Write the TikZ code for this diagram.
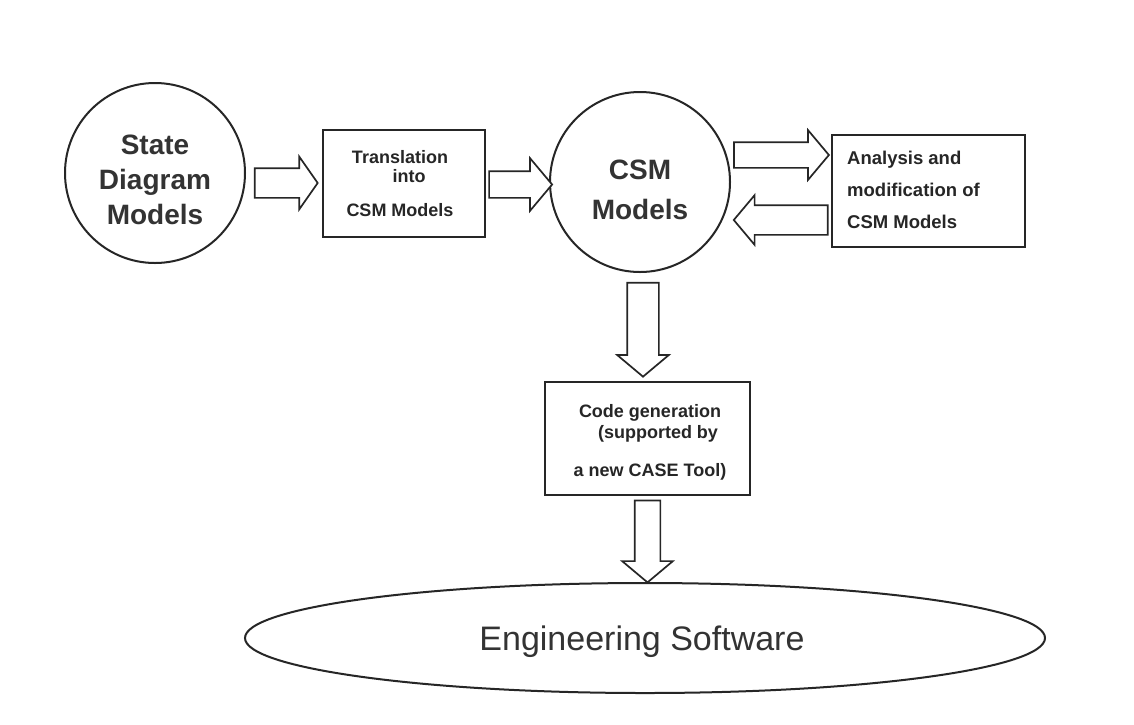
\documentclass[tikz,border=0pt]{standalone}
\usepackage{fontspec}
\setmainfont{Liberation Sans}
\usetikzlibrary{shapes.geometric,shapes.arrows}
\begin{document}
\begin{tikzpicture}[x=1pt,y=-1pt,
  ink/.style={draw=black!85},
  circ/.style={circle, ink, line width=2pt, minimum size=180pt, inner sep=0pt},
  bigtxt/.style={align=center, text=black!80, font=\fontsize{28}{35}\selectfont\bfseries, inner sep=0pt},
  box/.style={rectangle, ink, line width=1.7pt, inner sep=0pt},
  smalltxt/.style={text=black!85, font=\fontsize{18}{19}\selectfont\bfseries, inner sep=0pt},
  barrow/.style={single arrow, ink, line width=1.7pt, inner xsep=0pt, fill=white,
    single arrow tip angle=100, single arrow head indent=0pt},
  vbarrow/.style={barrow, shape border rotate=270, inner ysep=0pt}
]
\fill[white] (0,0) rectangle (1134,724);
\useasboundingbox (0,0) rectangle (1134,724);

% nodes
\node[circ] (sd) at (155,173) {};
\node[bigtxt] (sdt) at (155,180) {State\\Diagram\\Models};

\node[box, minimum width=162pt, minimum height=107pt] (tr) at (404,183.5) {};
\node[smalltxt, align=center] (trt) at (400,183.5) {Translation\\\hspace*{18pt}into\\[15pt]CSM Models};

\node[circ, minimum size=180pt] (csm) at (640,182) {};
\node[bigtxt, font=\fontsize{28}{40}\selectfont\bfseries] (csmt) at (640,190) {CSM\\Models};

\node[box, minimum width=193pt, minimum height=112pt] (an) at (928.5,191) {};
\node[smalltxt, align=left, anchor=west, font=\fontsize{18.5}{32}\selectfont\bfseries] (ant) at (847,190) {Analysis and\\modification of\\CSM Models};

\node[box, minimum width=205pt, minimum height=113pt] (cg) at (647.5,438.5) {};
\node[smalltxt, align=center, font=\fontsize{18}{21}\selectfont\bfseries] (cgt) at (650,442.5) {Code generation\\\hspace*{16pt}(supported by\\[17pt]a new CASE Tool)};

\node[ellipse, ink, line width=2pt, minimum width=800pt, minimum height=110pt, inner sep=0pt] (es) at (645,638) {};
\node[text=black!80, font=\fontsize{34}{40}\selectfont, inner sep=0pt] (est) at (642,642) {Engineering Software};

% block arrows (inner sep across the shaft = half shaft width)
\node[barrow, minimum height=63pt, inner ysep=14pt, single arrow head extend=11.5pt, single arrow tip angle=110] (a1) at (281,183) {};
\node[barrow, minimum height=63pt, inner ysep=12.5pt, single arrow head extend=13pt] (a2) at (515,184.5) {};
\node[barrow, minimum height=95pt, inner ysep=12pt, single arrow head extend=12pt] (a3) at (776,155) {};
\node[barrow, shape border rotate=180, minimum height=94pt, inner ysep=14pt, single arrow head extend=10pt] (a4) at (787,220) {};
\node[vbarrow, minimum height=94pt, inner xsep=15pt, single arrow head extend=10pt] (a5) at (643,323) {};
\node[vbarrow, minimum height=82pt, inner xsep=12pt, single arrow head extend=12.5pt] (a6) at (647.5,536) {};
\end{tikzpicture}
\end{document}
